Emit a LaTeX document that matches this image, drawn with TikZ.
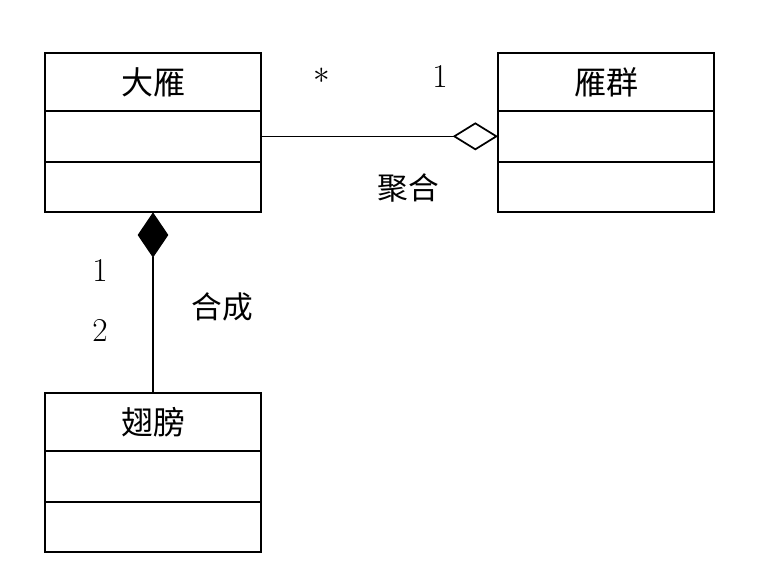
\documentclass[tikz,border=0pt]{standalone}
\usepackage{fontspec}
\newfontfamily\cjk{Noto Sans CJK SC}
\usetikzlibrary{arrows.meta,positioning}

\begin{document}
\begin{tikzpicture}[x=0.75pt,y=-0.75pt,
  cls/.style={draw,line width=1.4pt,minimum width=162pt,outer sep=0pt,inner sep=0pt},
  head/.style={cls,minimum height=43.5pt,font=\cjk\fontsize{24}{26}\selectfont},
  part/.style={cls,minimum height=38pt},
  link/.style={line width=0.8pt},
  lbl/.style={font=\fontsize{25}{28}\selectfont},
  clbl/.style={font=\cjk\fontsize{23}{26}\selectfont}]
\useasboundingbox (0,0) rectangle (766,574);

% classes
\node[head] (dayan) at (153,82) {大雁};
\node[part,below=0pt of dayan] (dayanA) {};
\node[part,below=0pt of dayanA] (dayanB) {};

\node[head] (yanqun) at (606,82) {雁群};
\node[part,below=0pt of yanqun] (yanqunA) {};
\node[part,below=0pt of yanqunA] (yanqunB) {};

\node[head] (chibang) at (153,422) {翅膀};
\node[part,below=0pt of chibang] (chibangA) {};
\node[part,below=0pt of chibangA] (chibangB) {};

% aggregation
\draw[link,-{Diamond[open,length=34pt,width=21pt,line width=1.3pt]}]
  (dayanA.east) -- (yanqunA.west);
\node[lbl] (aggMany) at (322,76) {$\ast$};
\node[lbl] (aggOne) at (440,76) {1};
\node[clbl] (aggLbl) at (408,188) {聚合};

% composition
\draw[link,{Diamond[length=34pt,width=23pt]}-] (dayanB.south) -- (chibang.north);
\node[lbl] (compOne) at (100,270) {1};
\node[lbl] (compTwo) at (100,330) {2};
\node[clbl] (compLbl) at (222,307) {合成};
\end{tikzpicture}
\end{document}
